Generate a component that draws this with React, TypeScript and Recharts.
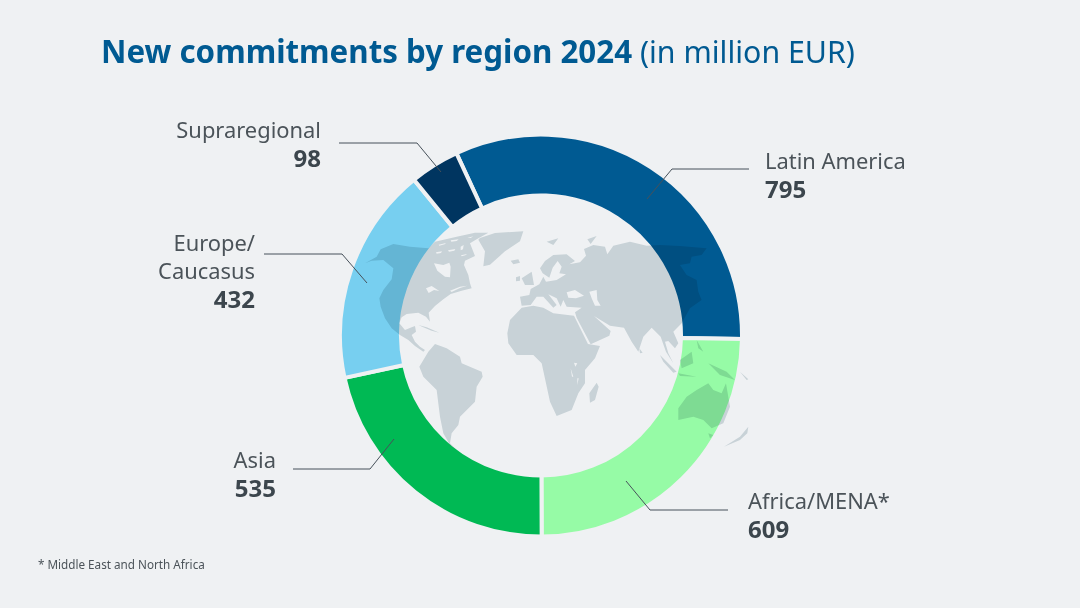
import React from 'react';
import { PieChart, Pie, Cell } from 'recharts';

document.body.style.margin = '0';

const REGIONS = ['Latin America', 'Africa/MENA*', 'Asia', 'Europe/\nCaucasus', 'Supraregional'];
const VALUES = [795, 609, 535, 432, 98];
const COLORS = ['#005a92', '#96fba6', '#00b954', '#77cff0', '#003560'];

const BG = '#eff1f3';
const FONT = '"Noto Sans", sans-serif';
const TEXT_COLOR = '#4b5359';
const BOLD_COLOR = '#3c464d';
const LINE_COLOR = '#47515a';

const data = REGIONS.map((name, i) => ({ name, value: VALUES[i] }));

// hand placed callouts, same order as REGIONS
const CALLOUTS = [
  { x: 765, y: 169, anchor: 'start', line: '749,169 672,169 647,199' },
  { x: 748, y: 509, anchor: 'start', line: '728,510 650,510 626,481' },
  { x: 276, y: 468, anchor: 'end', line: '293,469 370,469 394,439' },
  { x: 255, y: 251, anchor: 'end', line: '264,254 342,254 367,283' },
  { x: 321, y: 138, anchor: 'end', line: '339,143 417,143 441,172' },
];

const renderCallout = ({ index }: any) => {
  const c = CALLOUTS[index];
  const lines = REGIONS[index].split('\n');
  return (
    <g key={index}>
      <polyline points={c.line} fill="none" stroke={LINE_COLOR} strokeWidth={1} />
      {lines.map((t, i) => (
        <text key={t} x={c.x} y={c.y + i * 28} textAnchor={c.anchor} fontFamily={FONT} fontSize={21.9} fill={TEXT_COLOR}>
          {t}
        </text>
      ))}
      <text x={c.x} y={c.y + lines.length * 28 + 0.5} textAnchor={c.anchor} fontFamily={FONT} fontSize={24} fontWeight={700} fill={BOLD_COLOR}>
        {VALUES[index]}
      </text>
    </g>
  );
};

// world map backdrop (zoomed crop coordinates)
const AMERICAS = [
  'M15,130 35,122 70,120 100,145 95,178 70,210 58,235 62,260 75,295 95,325 120,345 145,360 165,378 190,395 195,390 180,380 165,365 155,345 168,335 165,318 155,322 135,330 118,310 125,292 140,282 175,278 198,290 210,305 206,278 225,258 250,238 272,222 305,212 335,205 330,190 325,165 312,135 315,122 345,108 330,70 350,58 385,38 345,38 290,50 225,65 205,85 150,80 100,72 62,88 50,110Z',
  // hudson bay, lakes, arctic channels
  'M222,130 250,135 268,128 272,140 270,172 255,170 232,152Z',
  'M198,205 215,198 238,213 222,210 206,219Z',
  'M270,212 300,200 322,197 300,204 275,216Z',
  'M236,74 258,69 254,73 238,77Z',
  'M272,61 296,58 290,63 274,65Z',
  'M264,91 286,87 283,92 267,95Z',
  'M302,80 311,75 309,88 302,91Z',
  'M228,97 246,94 243,99 230,101Z',
  'M322,54 340,49 332,54Z',
  'M303,106 321,102 316,106 305,109Z',
  'M360,54 405,39 490,34 480,64 435,94 390,134 370,139 375,94 355,59Z',
  'M452,122 475,118 480,128 460,133Z',
  'M175,315 200,322 238,338 215,332 190,322Z',
  'M178,440 205,395 225,372 260,385 300,410 305,430 365,455 368,470 350,500 345,545 300,590 295,615 275,640 270,670 290,690 270,675 250,640 240,590 230,510 190,470Z',
];

const EURASIA = [
  'M30,185 58,180 62,162 88,148 100,125 108,140 140,135 168,118 148,115 155,95 143,78 128,98 118,128 98,115 90,100 105,78 130,60 170,58 195,78 178,88 210,82 228,62 222,42 250,30 285,35 292,58 310,32 360,20 410,32 450,30 510,33 590,40 575,60 545,65 540,85 510,90 530,120 560,135 565,170 575,195 540,220 515,265 490,290 505,325 495,340 475,318 465,320 475,355 490,385 468,350 452,305 425,278 400,305 385,350 365,320 342,278 300,272 252,243 302,288 298,302 242,328 200,248 195,232 215,218 170,215 160,195 152,215 140,190 115,178 140,210 130,218 100,185 80,185 62,210 35,212Z',
  // black sea, caspian
  'M170,172 195,165 222,182 198,190 175,188Z',
  'M238,170 260,165 262,195 272,212 255,212 245,190Z',
];

const OLD_WORLD = [
  'M22,340 30,300 65,263 100,257 130,263 160,280 222,287 264,372 300,378 285,415 255,450 255,490 235,520 215,570 170,588 150,545 138,490 125,430 100,405 50,405 25,370Z',
  'M222,428 232,430 226,440Z',
  'M212,445 220,470 216,470Z',
  'M232,475 236,475 232,495Z',
  'M268,520 290,488 296,500 285,540 270,548Z',
  'M65,175 95,155 102,195 75,195Z',
  'M48,172 60,168 60,182 48,184Z',
  'M418,385 428,398 420,400Z',
  'M140,65 175,55 160,75Z',
  'M262,58 290,48 272,72Z',
  'M480,405 530,455 520,458 490,425Z',
  'M540,420 575,395 580,430 545,445Z',
  'M535,460 590,470 540,468Z',
  'M625,430 680,455 705,480 660,465Z',
  'M590,360 610,395 595,385Z',
  'M720,455 745,478 740,480Z',
  'M535,565 560,530 590,510 625,490 640,510 665,520 678,490 690,560 670,610 635,625 610,600 580,590 535,600Z',
  'M625,640 640,645 630,655Z',
  'M672,680 720,650 745,620 742,640 720,660Z',
];

const WorldMap = () => (
  <svg
    width={1080}
    height={608}
    style={{ position: 'absolute', left: 0, top: 0, mixBlendMode: 'multiply', pointerEvents: 'none' }}
  >
    <g fill="#d6dfe2" fillRule="evenodd">
      <path transform="translate(360 220) scale(0.3333)" d={AMERICAS.join(' ')} />
      <path transform="translate(510 235) scale(0.3333)" d={EURASIA.join(' ')} />
      <path transform="translate(500 220) scale(0.3333)" d={OLD_WORLD.join(' ')} />
    </g>
  </svg>
);

export default function App() {
  return (
    <div style={{ position: 'relative', width: 1080, height: 608, background: BG, overflow: 'hidden' }}>
      <div
        style={{
          position: 'absolute',
          left: 101,
          top: 29,
          fontFamily: FONT,
          fontSize: 30.3,
          lineHeight: '44px',
          color: '#005a92',
          whiteSpace: 'nowrap',
        }}
      >
        <b style={{ fontSize: 31.3 }}>New commitments by region 2024</b> (in million EUR)
      </div>
      <div style={{ position: 'absolute', left: 0, top: 0 }}>
        <PieChart width={1080} height={608} margin={{ top: 0, right: 0, bottom: 0, left: 0 }}>
          <Pie
            data={data}
            dataKey="value"
            cx={541}
            cy={335.5}
            innerRadius={140}
            outerRadius={201}
            startAngle={114.9}
            endAngle={-245.1}
            stroke={BG}
            strokeWidth={4}
            label={renderCallout}
            labelLine={false}
            isAnimationActive={false}
          >
            {data.map((d, i) => (
              <Cell key={d.name} fill={COLORS[i]} />
            ))}
          </Pie>
        </PieChart>
      </div>
      <WorldMap />
      <div
        style={{
          position: 'absolute',
          left: 38,
          top: 556,
          fontFamily: FONT,
          fontSize: 11.7,
          color: TEXT_COLOR,
          whiteSpace: 'nowrap',
        }}
      >
        * Middle East and North Africa
      </div>
    </div>
  );
}
